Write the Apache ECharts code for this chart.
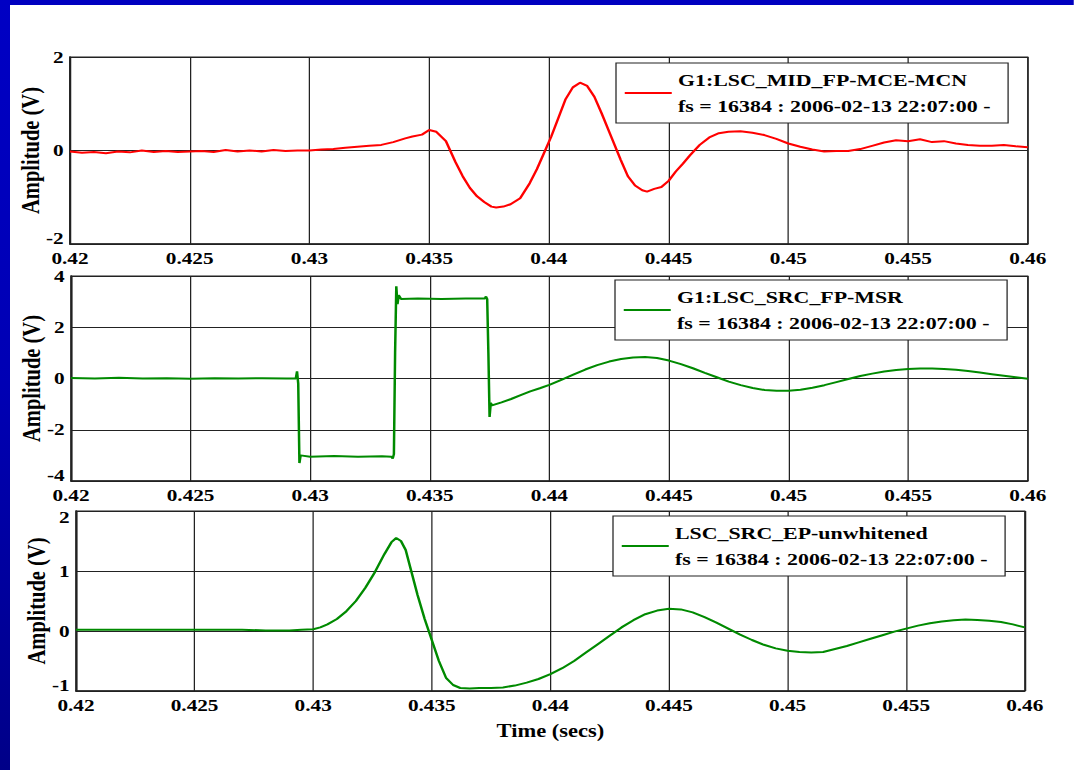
<!DOCTYPE html>
<html>
<head>
<meta charset="utf-8">
<script src="https://cdn.jsdelivr.net/npm/echarts@6/dist/echarts.min.js"></script>
<style>
  html, body { margin: 0; padding: 0; background: #ffffff; overflow: hidden; width: 1074px; height: 770px; }
  #chart { width: 859.2px; height: 770px; transform: scaleX(1.25); transform-origin: 0 0; }
</style>
</head>
<body>
<div id="chart"></div>
<script>
// ---------------- data ----------------
const xTicksMin = 0.42, xTicksMax = 0.46, xTickStep = 0.005;

const names = ['G1:LSC_MID_FP-MCE-MCN', 'G1:LSC_SRC_FP-MSR', 'LSC_SRC_EP-unwhitened'];
const fsLine = 'fs = 16384 : 2006-02-13 22:07:00 -';
const yTitle = 'Amplitude (V)';
const xTitle = 'Time (secs)';

// Panel 1: G1:LSC_MID_FP-MCE-MCN
const t1 = [0.4200,0.4205,0.4210,0.4215,0.4220,0.4225,0.4230,0.4235,0.4240,0.4245,0.4250,0.4255,0.4260,0.4265,0.4270,0.4275,0.4280,0.4285,0.4290,0.4295,
  0.4300,0.4305,0.4310,0.4315,0.4320,0.4325,0.4330,0.4335,0.4340,0.4343,0.4347,0.4350,0.4353,0.4357,0.4361,0.4364,0.4367,0.4370,0.4373,0.4376,
  0.4378,0.4381,0.4384,0.4388,0.4392,0.4395,0.4398,0.4401,0.4404,0.4407,0.4410,0.4413,0.4416,0.4419,0.4422,0.4426,0.4430,0.4433,0.4436,0.4439,
  0.4441,0.4444,0.4447,0.4450,0.4453,0.4456,0.4459,0.4463,0.4467,0.4471,0.4475,0.4480,0.4485,0.4490,0.4495,0.4500,0.4505,0.4510,0.4515,0.4520,
  0.4525,0.4530,0.4535,0.4540,0.4545,0.4550,0.4555,0.4560,0.4565,0.4570,0.4575,0.4580,0.4585,0.4590,0.4595,0.4600];
const v1 = [-0.02,-0.05,-0.03,-0.06,-0.02,-0.04,0.00,-0.03,-0.01,-0.03,-0.02,-0.01,-0.03,0.01,-0.02,0.00,-0.02,0.01,-0.01,0.00,
  0.00,0.02,0.03,0.06,0.08,0.10,0.12,0.18,0.26,0.30,0.34,0.44,0.40,0.20,-0.25,-0.55,-0.80,-0.98,-1.10,-1.20,
  -1.22,-1.20,-1.15,-1.02,-0.70,-0.40,-0.05,0.30,0.70,1.10,1.35,1.45,1.38,1.15,0.80,0.30,-0.20,-0.55,-0.75,-0.85,
  -0.88,-0.82,-0.78,-0.65,-0.45,-0.28,-0.10,0.12,0.28,0.37,0.40,0.41,0.38,0.33,0.25,0.15,0.08,0.02,-0.02,-0.01,
  -0.01,0.03,0.10,0.17,0.22,0.20,0.24,0.18,0.20,0.15,0.12,0.10,0.10,0.12,0.09,0.07];

// Panel 2: G1:LSC_SRC_FP-MSR
const t2 = [0.4200,0.4210,0.4220,0.4230,0.4240,0.4250,0.4260,0.4270,0.4280,0.4290,0.4294,0.42945,0.4295,0.42955,0.4296,0.4300,0.4310,0.4320,0.4330,0.4334,
  0.43345,0.4335,0.43355,0.4336,0.43365,0.4337,0.4338,0.4345,0.4355,0.4365,0.4373,0.43735,0.4374,0.43745,0.4375,0.43755,0.4376,0.4380,0.4384,0.4388,
  0.4392,0.4396,0.4400,0.4405,0.4410,0.4415,0.4420,0.4425,0.4430,0.4435,0.4440,0.4445,0.4450,0.4455,0.4460,0.4465,0.4470,0.4475,0.4480,0.4485,
  0.4490,0.4495,0.4500,0.4505,0.4510,0.4515,0.4520,0.4525,0.4530,0.4535,0.4540,0.4545,0.4550,0.4555,0.4560,0.4565,0.4570,0.4575,0.4580,0.4585,
  0.4590,0.4595,0.4600];
const v2 = [0.02,0.00,0.03,0.00,0.01,-0.01,0.01,0.00,0.01,0.00,0.00,0.28,-0.20,-3.30,-3.00,-3.05,-3.02,-3.05,-3.03,-3.05,
  -3.12,-2.95,1.00,3.60,2.90,3.25,3.10,3.12,3.10,3.12,3.12,3.20,3.10,1.00,-1.50,-0.95,-1.05,-0.93,-0.80,-0.65,
  -0.50,-0.38,-0.25,-0.05,0.15,0.35,0.52,0.66,0.76,0.82,0.84,0.80,0.70,0.56,0.40,0.22,0.05,-0.12,-0.26,-0.37,
  -0.45,-0.48,-0.48,-0.44,-0.36,-0.26,-0.14,-0.02,0.10,0.19,0.27,0.33,0.37,0.39,0.39,0.37,0.34,0.29,0.23,0.17,
  0.11,0.05,-0.01];

// Panel 3: LSC_SRC_EP-unwhitened
const t3 = [0.4200,0.4210,0.4220,0.4230,0.4240,0.4250,0.4260,0.4270,0.4280,0.4290,0.4295,0.4300,0.4303,0.4306,0.4310,0.4314,0.4318,0.4322,0.4326,0.4330,
  0.4333,0.4335,0.4337,0.4339,0.4341,0.4344,0.4347,0.4350,0.4353,0.4356,0.4359,0.4362,0.4366,0.4370,0.4375,0.4380,0.4385,0.4390,0.4395,0.4400,
  0.4405,0.4410,0.4415,0.4420,0.4425,0.4430,0.4435,0.4440,0.4445,0.4450,0.4455,0.4460,0.4465,0.4470,0.4475,0.4480,0.4485,0.4490,0.4495,0.4500,
  0.4505,0.4510,0.4515,0.4520,0.4525,0.4530,0.4535,0.4540,0.4545,0.4550,0.4555,0.4560,0.4565,0.4570,0.4575,0.4580,0.4585,0.4590,0.4595,0.4600];
const v3 = [0.02,0.02,0.02,0.02,0.02,0.02,0.02,0.02,0.01,0.01,0.02,0.03,0.06,0.11,0.20,0.33,0.50,0.72,0.98,1.28,
  1.48,1.55,1.50,1.35,1.05,0.60,0.20,-0.15,-0.50,-0.78,-0.90,-0.95,-0.96,-0.95,-0.95,-0.94,-0.91,-0.86,-0.80,-0.72,
  -0.62,-0.50,-0.36,-0.22,-0.08,0.06,0.18,0.28,0.34,0.37,0.36,0.31,0.23,0.14,0.04,-0.06,-0.15,-0.23,-0.29,-0.33,
  -0.35,-0.36,-0.35,-0.30,-0.25,-0.19,-0.13,-0.07,-0.01,0.04,0.09,0.13,0.16,0.18,0.19,0.185,0.17,0.15,0.11,0.06];

const yMins = [-2, -4, -1];
const yMaxs = [2, 4, 2];
const yIntervals = [2, 2, 1];
const colors = ['#ff0000', '#008a00', '#008a00'];

// ---------------- chart ----------------
const FONT = "'Liberation Serif', 'Times New Roman', serif";
const chart = echarts.init(document.getElementById('chart'), null, { renderer: 'svg' });

const grids = [
  { left: 56, right: 36.8, top: 57, height: 187 },
  { left: 56.8, right: 36.8, top: 276, height: 205 },
  { left: 60.8, right: 39.2, top: 511, height: 180 }
].map(g => Object.assign({ show: true, borderColor: '#222', borderWidth: 1, backgroundColor: '#fff', containLabel: false, outerBoundsMode: 'none' }, g));

const xAxes = [0, 1, 2].map(i => ({
  type: 'value', gridIndex: i, min: xTicksMin, max: xTicksMax, interval: xTickStep,
  axisLine: { show: true, onZero: false, lineStyle: { color: '#222', width: 1.5 } },
  axisTick: { show: false },
  splitLine: { show: true, lineStyle: { color: '#222', width: 1 } },
  axisLabel: { color: '#000', fontFamily: FONT, fontWeight: 'bold', fontSize: 17, lineHeight: 12, margin: 8,
    showMinLabel: true, showMaxLabel: true,
    formatter: v => String(parseFloat(v.toFixed(4))) },
  name: i === 2 ? xTitle : '', nameLocation: 'middle', nameGap: 31, nameMoveOverlap: false,
  nameTextStyle: { color: '#000', fontFamily: FONT, fontWeight: 'bold', fontSize: 18 }
}));

const yAxes = [0, 1, 2].map(i => ({
  type: 'value', gridIndex: i, min: yMins[i], max: yMaxs[i], interval: yIntervals[i],
  axisLine: { show: true, lineStyle: { color: '#222', width: 1.5 } },
  axisTick: { show: false },
  splitLine: { show: true, lineStyle: { color: '#222', width: 1 } },
  axisLabel: { color: '#000', fontFamily: FONT, fontWeight: 'bold', fontSize: 17, lineHeight: 12, margin: 5,
    showMinLabel: true, showMaxLabel: true,
    verticalAlignMinLabel: 'bottom',
    verticalAlignMaxLabel: i === 2 ? 'top' : 'middle' },
  name: yTitle, nameLocation: 'middle', nameGap: 21, nameMoveOverlap: false,
  nameTextStyle: { color: '#000', fontFamily: FONT, fontWeight: 'bold', fontSize: 20.5 }
}));

const allT = [t1, t2, t3], allV = [v1, v2, v3];
const series = [0, 1, 2].map(i => ({
  name: names[i], type: 'line', xAxisIndex: i, yAxisIndex: i,
  data: allT[i].map((t, k) => [t, allV[i][k]]),
  symbol: 'none', showSymbol: false, smooth: false,
  lineStyle: { color: colors[i], width: 2 }, itemStyle: { color: colors[i] },
  animation: false, z: 3
}));

const legendPos = [
  { left: 492.8, top: 63 },
  { left: 492, top: 280 },
  { left: 490.4, top: 516 }
];
const legends = [0, 1, 2].map(i => ({
  data: [names[i]], left: legendPos[i].left, top: legendPos[i].top,
  orient: 'vertical', icon: 'rect', itemWidth: 37.6, itemHeight: 2,
  backgroundColor: '#fff', borderColor: '#222', borderWidth: 1,
  padding: [4, 14, 4, 7], selectedMode: false,
  formatter: n => n + '\n' + fsLine,
  textStyle: { color: '#000', fontFamily: FONT, fontWeight: 'bold', fontSize: 17.5, lineHeight: 26 }
}));

chart.setOption({
  animation: false,
  backgroundColor: '#ffffff',
  grid: grids, xAxis: xAxes, yAxis: yAxes, series: series, legend: legends,
  graphic: [
    { type: 'rect', left: 0, top: 0, z: 100, shape: { width: 860, height: 5 }, style: { fill: '#0000c0' }, silent: true },
    { type: 'rect', left: 0, top: 0, z: 100, shape: { width: 8, height: 770 }, silent: true,
      style: { fill: new echarts.graphic.LinearGradient(0, 0, 0, 1, [
        { offset: 0, color: '#0000c4' }, { offset: 0.5, color: '#0000b4' }, { offset: 1, color: '#000088' }]) } }
  ]
});
</script>
</body>
</html>
